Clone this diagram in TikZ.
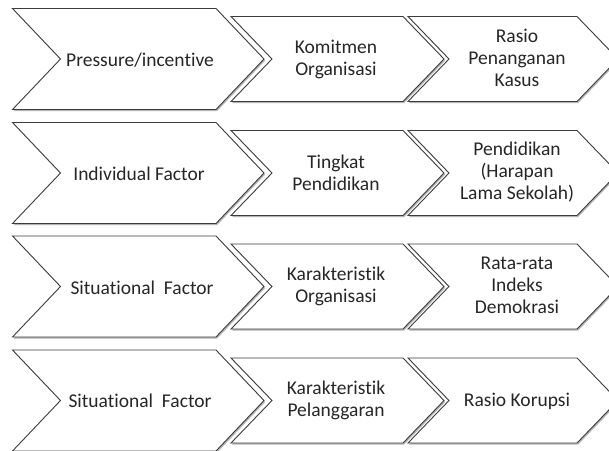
\documentclass[tikz,border=0pt]{standalone}
\usepackage{fontspec}
\setmainfont{Carlito}[Ligatures=NoCommon]
\definecolor{edgec}{HTML}{3C3C3C}
\definecolor{txtc}{HTML}{262626}
\definecolor{shadc}{HTML}{B4B4B4}
% #1 left x, #2 top-right x, #3 point depth, #4 half height, #5 center y
\newcommand\chevshape[5]{%
  \fill[shadc,shift={(1.2,1.5)}] (#1,#5-#4) -- (#2,#5-#4) -- (#2+#3,#5) -- (#2,#5+#4) -- (#1,#5+#4) -- (#1+#3,#5) -- cycle;
  \draw[chev] (#1,#5-#4) -- (#2,#5-#4) -- (#2+#3,#5) -- (#2,#5+#4) -- (#1,#5+#4) -- (#1+#3,#5) -- cycle;}
\newcommand\chevrow[1]{%
  \chevshape{12.5}{216}{48}{50.5}{#1}
  \chevshape{231}{403}{41}{42.5}{#1}
  \chevshape{408}{577}{41}{42.5}{#1}}
\begin{document}
\begin{tikzpicture}[x=1pt,y=-1pt,
  chev/.style={draw=edgec,line width=0.9pt,fill=white,line join=miter},
  lbl/.style={text=txtc,align=center,font=\fontsize{19.5}{22}\selectfont,inner sep=0pt}]
\useasboundingbox (0,0) rectangle (609,450);
\clip (0,0) rectangle (609,450);
\fill[white] (0,0) rectangle (609,450);
\chevrow{59}
\chevrow{173}
\chevrow{286.5}
\chevrow{400.5}
% row 1
\node[lbl] (a1) at (140,60) {Pressure/incentive};
\node[lbl] (b1) at (336,59) {Komitmen\\Organisasi};
\node[lbl] (c1) at (517,58) {Rasio\\Penanganan\\Kasus};
% row 2
\node[lbl] (a2) at (139,174) {Individual Factor};
\node[lbl] (b2) at (336,173) {Tingkat\\Pendidikan};
\node[lbl] (c2) at (517,172) {Pendidikan\\(Harapan\\Lama Sekolah)};
% row 3
\node[lbl] (a3) at (142,287.5) {Situational\ \ Factor};
\node[lbl] (b3) at (336,286.5) {Karakteristik\\Organisasi};
\node[lbl] (c3) at (517,285.5) {Rata-rata\\Indeks\\Demokrasi};
% row 4
\node[lbl] (a4) at (140,401) {Situational\ \ Factor};
\node[lbl] (b4) at (336,400.5) {Karakteristik\\Pelanggaran};
\node[lbl] (c4) at (517,401) {Rasio Korupsi};
\end{tikzpicture}
\end{document}
